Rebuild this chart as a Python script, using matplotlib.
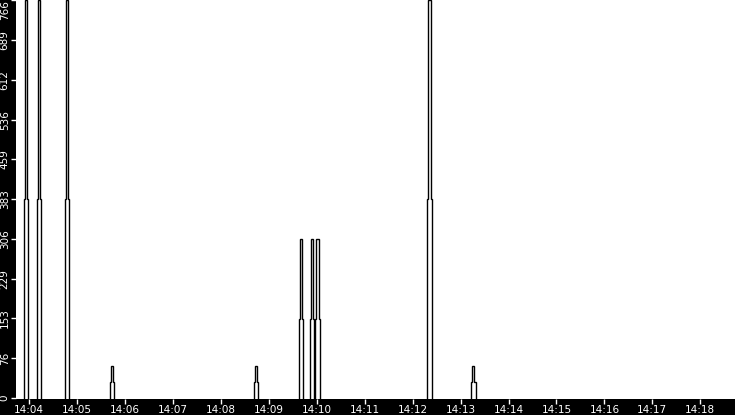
import matplotlib
matplotlib.use("Agg")
import matplotlib.pyplot as plt
import numpy as np

# spike times (hh:mm:ss) and their peak / mid values
spike_times = ["14:03:56", "14:04:12", "14:04:47", "14:05:44", "14:08:44",
               "14:09:40", "14:09:54", "14:10:01", "14:12:21", "14:13:16"]
peak_vals = [766, 766, 766, 61, 61, 306, 306, 306, 766, 61]
mid_vals = [383, 383, 383, 30, 30, 153, 153, 153, 383, 30]

y_ticks = np.linspace(0, 766, 11)
y_labels = [str(int(v)) for v in y_ticks]
x_tick_labels = ["14:%02d" % m for m in range(4, 19)]


def to_sec(s):
    h, m, sec = [int(p) for p in s.split(":")]
    return h * 3600 + m * 60 + sec


fig = plt.figure(figsize=(7.35, 4.15), dpi=100, facecolor="black")
ax = fig.add_axes([16 / 735, 16 / 415, 719 / 735, 399 / 415])
ax.set_facecolor("white")

w_wide = 2.7
w_narrow = 1.4
for ts, pk, md in zip(spike_times, peak_vals, mid_vals):
    t = to_sec(ts)
    xs = [t - w_wide, t - w_wide, t - w_narrow, t - w_narrow,
          t + w_narrow, t + w_narrow, t + w_wide, t + w_wide]
    ys = [0, md, md, pk, pk, md, md, 0]
    ax.plot(xs, ys, color="black", lw=1.0, solid_joinstyle="miter")

x0 = to_sec("14:03:43") + 0.5
ax.set_xlim(x0, x0 + 900)
ax.set_ylim(-2, 766.5)

ax.set_yticks(y_ticks)
ax.set_yticklabels(y_labels, rotation=90, va="center")
# keep the top label inside the figure
ax.get_yticklabels()[-1].set_va("top")
xt = [to_sec(l + ":00") for l in x_tick_labels]
ax.set_xticks(xt)
ax.set_xticklabels(x_tick_labels)

ax.tick_params(axis="both", colors="white", labelcolor="white", labelsize=7.5,
               length=3.5, width=1, direction="out", pad=1)
ax.tick_params(axis="x", pad=0.5)
for sp in ax.spines.values():
    sp.set_visible(False)

fig.savefig("out.png", dpi=100, facecolor="black")
